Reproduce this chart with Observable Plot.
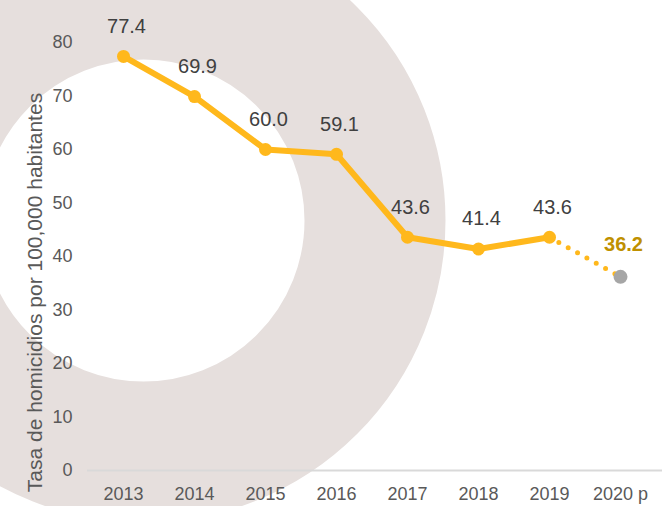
<!DOCTYPE html>
<html><head><meta charset="utf-8">
<script src="https://cdn.jsdelivr.net/npm/d3@7"></script>
<script src="https://cdn.jsdelivr.net/npm/@observablehq/plot@0.6"></script>
<style>html,body{margin:0;padding:0;background:#fff;} svg{display:block}</style>
</head><body><div id="chart"></div>
<script>
const years = ["2013", "2014", "2015", "2016", "2017", "2018", "2019", "2020 p"];
const rates = [77.4, 69.9, 60.0, 59.1, 43.6, 41.4, 43.6, 36.2];
const yTicks = [0, 10, 20, 30, 40, 50, 60, 70, 80];
const yTitle = "Tasa de homicidios por 100,000 habitantes";

const data = years.map((year, i) => ({year, rate: rates[i]}));
const observed = data.slice(0, 7);
const projected = data.slice(6);
const last = data.slice(7);

const gold = "#FFB81C";
const plot = Plot.plot({
  width: 665, height: 506,
  marginLeft: 87, marginRight: 9, marginTop: 42, marginBottom: 36,
  style: {fontFamily: "'Liberation Sans', Arial, sans-serif", color: "#595959", background: "#fff"},
  x: {type: "point", domain: years, padding: 0.5},
  y: {domain: [0, 80]},
  marks: [
    Plot.dot([0], {frameAnchor: "top-left", dx: 56, dy: 178, r: 231.5, stroke: "#e6dfdd", strokeWidth: 141, fill: "none"}),
    Plot.ruleY([0], {stroke: "#d9d9d9", strokeWidth: 2, insetRight: -6}),
    Plot.axisY({ticks: yTicks, tickSize: 0, tickPadding: 15, fontSize: 18, label: null}),
    Plot.axisX({tickSize: 0, tickPadding: 17, fontSize: 18, label: null}),
    Plot.text([yTitle], {frameAnchor: "left", textAnchor: "middle", rotate: -90, dx: -52, dy: 36, fontSize: 21, fill: "#595959"}),
    Plot.line(projected, {x: "year", y: "rate", stroke: gold, strokeWidth: 5, strokeDasharray: "0 10.7", strokeLinecap: "round"}),
    Plot.line(observed, {x: "year", y: "rate", stroke: gold, strokeWidth: 6, strokeLinejoin: "round"}),
    Plot.dot(observed, {x: "year", y: "rate", r: 6.5, fill: gold}),
    Plot.dot(last, {x: "year", y: "rate", r: 7, fill: "#A6A6A6"}),
    Plot.text(observed, {x: "year", y: "rate", text: d => d.rate.toFixed(1), dx: 3, dy: -30, fontSize: 20, fill: "#404040"}),
    Plot.text(last, {x: "year", y: "rate", text: d => d.rate.toFixed(1), dx: 3, dy: -32, fontSize: 20, fontWeight: "bold", fill: "#BF9000"})
  ]
});
document.getElementById("chart").append(plot);
</script>
</body></html>
